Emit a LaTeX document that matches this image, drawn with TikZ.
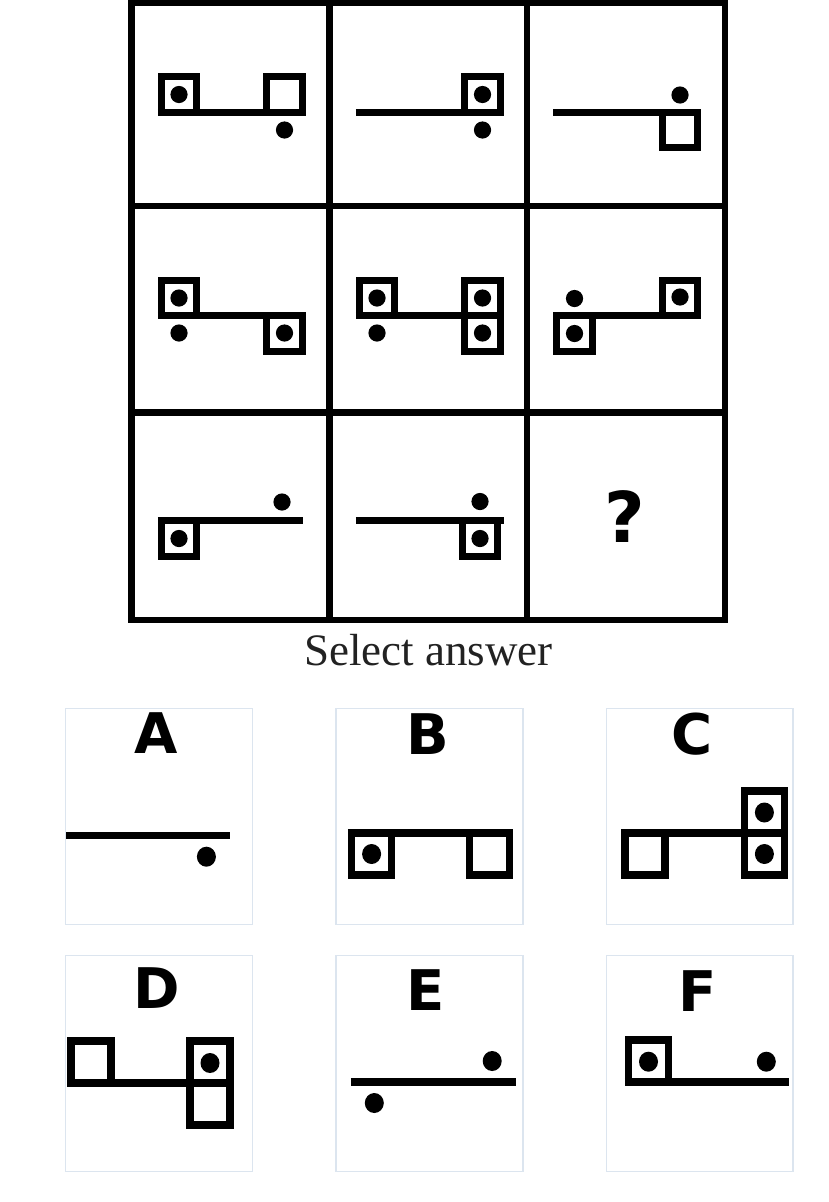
\documentclass[tikz,border=0pt]{standalone}
\usepackage{fontspec}
\setmainfont{Liberation Serif}
\newfontfamily\labfont{DejaVu Sans}[BoldFont={DejaVu Sans Bold}]
\definecolor{boxc}{RGB}{220,229,239}
\definecolor{txtc}{RGB}{34,34,34}
% grid figures (centre-line side 35.5)
\newcommand\gsqA[2]{\draw[gfig] ({#1-17.75},{#2-35.5}) rectangle ({#1+17.75},{#2});}
\newcommand\gsqB[2]{\draw[gfig] ({#1-17.75},{#2}) rectangle ({#1+17.75},{#2+35.5});}
\newcommand\gdot[2]{\fill ({#1},{#2}) circle[radius=8.6];}
\newcommand\gline[3]{\draw[gfig] ({#1-21.25},{#3}) -- ({#2+21.25},{#3});}
% answer figures (centre-line 40 x 42)
\newcommand\asqA[2]{\draw[afig] ({#1-20},{#2-42}) rectangle ({#1+20},{#2});}
\newcommand\asqB[2]{\draw[afig] ({#1-20},{#2}) rectangle ({#1+20},{#2+42});}
\newcommand\adot[2]{\fill ({#1},{#2}) ellipse[x radius=9.5,y radius=10];}
\begin{document}
\begin{tikzpicture}[x=1pt,y=-1pt,
  gfig/.style={line width=7pt,line cap=butt},
  afig/.style={line width=7.6pt,line cap=butt},
  frame/.style={line width=6.5pt},
  abox/.style={draw=boxc,line width=1.3pt},
  lab/.style={anchor=base,inner sep=0pt,font=\labfont\bfseries\fontsize{56}{60}\selectfont}]
\useasboundingbox (0,0) rectangle (828,1202);
\fill[white] (0,0) rectangle (828,1202);
% ---------- grid frame
\draw[frame] (131.5,3) rectangle (725,620);
\draw[frame] (329.5,3) -- (329.5,620);
\draw[frame] (527,3) -- (527,620);
\draw[frame] (131.5,206) -- (725,206);
\draw[frame] (131.5,412.5) -- (725,412.5);
% ---------- row 1 (line y 112)
% cell 1: L=179 R=284.5
\gline{179}{284.5}{112}
\gsqA{179}{112} \gdot{179}{94.5}
\gsqA{284.5}{112}
\gdot{284.5}{130}
% cell 2: L=377 R=482.5
\gline{377}{482.5}{112}
\gsqA{482.5}{112} \gdot{482.5}{94.5}
\gdot{482.5}{130}
% cell 3: L=574.5 R=680
\gline{574.5}{680}{112}
\gsqB{680}{112}
\gdot{680}{95}
% ---------- row 2 (line y 315.5)
\gline{179}{284.5}{315.5}
\gsqA{179}{315.5} \gdot{179}{298}
\gdot{179}{333}
\gsqB{284.5}{315.5} \gdot{284.5}{333}
% cell 2
\gline{377}{482.5}{315.5}
\gsqA{377}{315.5} \gdot{377}{298}
\gdot{377}{333}
\gsqA{482.5}{315.5} \gdot{482.5}{298}
\gsqB{482.5}{315.5} \gdot{482.5}{333}
% cell 3
\gline{574.5}{680}{315.5}
\gdot{574.5}{298.5}
\gsqB{574.5}{315.5} \gdot{574.5}{333.5}
\gsqA{680}{315.5} \gdot{680}{297}
% ---------- row 3 (line y 520.5)
\gline{179}{282}{520.5}
\gsqB{179}{520.5} \gdot{179}{538.5}
\gdot{282}{502}
% cell 2
\gline{377}{482.5}{520.5}
\gdot{480}{501.5}
\gsqB{480}{520.5} \gdot{480}{538.5}
% cell 3
\node[anchor=base,inner sep=0pt,font=\labfont\bfseries\fontsize{70}{74}\selectfont] (q) at (624.5,542) {?};
% ---------- caption
\node[anchor=base,inner sep=0pt,text=txtc,font=\fontsize{45}{50}\selectfont] (sel) at (428.5,665) {Select answer};
% ---------- answer boxes
\draw[abox] (65.5,708.5) rectangle (252.5,924.5);
\draw[abox] (336,708.5) rectangle (523,924.5);
\draw[abox] (606.5,708.5) rectangle (793,924.5);
\draw[abox] (65.5,955.5) rectangle (252.5,1171.5);
\draw[abox] (336,955.5) rectangle (523,1171.5);
\draw[abox] (606.5,955.5) rectangle (793,1171.5);
\node[lab] (la) at (156.5,753.5) {A};
\node[lab] (lb) at (427.5,754.5) {B};
\node[lab] (lc) at (692.5,754) {C};
\node[lab] (ld) at (157,1008.5) {D};
\node[lab] (le) at (426,1010) {E};
\node[lab] (lf) at (698,1011) {F};
% A
\draw[afig] (66,835.5) -- (230.4,835.5);
\adot{206.4}{856.7}
% B
\draw[afig] (347.8,833) -- (513.3,833);
\asqB{371.6}{833} \adot{371.6}{854}
\asqB{489.5}{833}
% C
\draw[afig] (621.4,833) -- (788.2,833);
\asqB{645.2}{833}
\asqA{764.4}{833} \adot{764.4}{812.5}
\asqB{764.4}{833} \adot{764.4}{854}
% D
\draw[afig] (67.4,1083) -- (233.6,1083);
\asqA{91.2}{1083}
\asqA{210}{1083} \adot{210}{1063}
\asqB{210}{1083}
% E
\draw[afig] (350.8,1081.7) -- (515.8,1081.7);
\adot{492.2}{1061}
\adot{374.3}{1103}
% F
\draw[afig] (624.8,1081.7) -- (789.4,1081.7);
\asqA{648.5}{1081.7} \adot{648.5}{1061.7}
\adot{766.3}{1061.7}
\end{tikzpicture}
\end{document}
